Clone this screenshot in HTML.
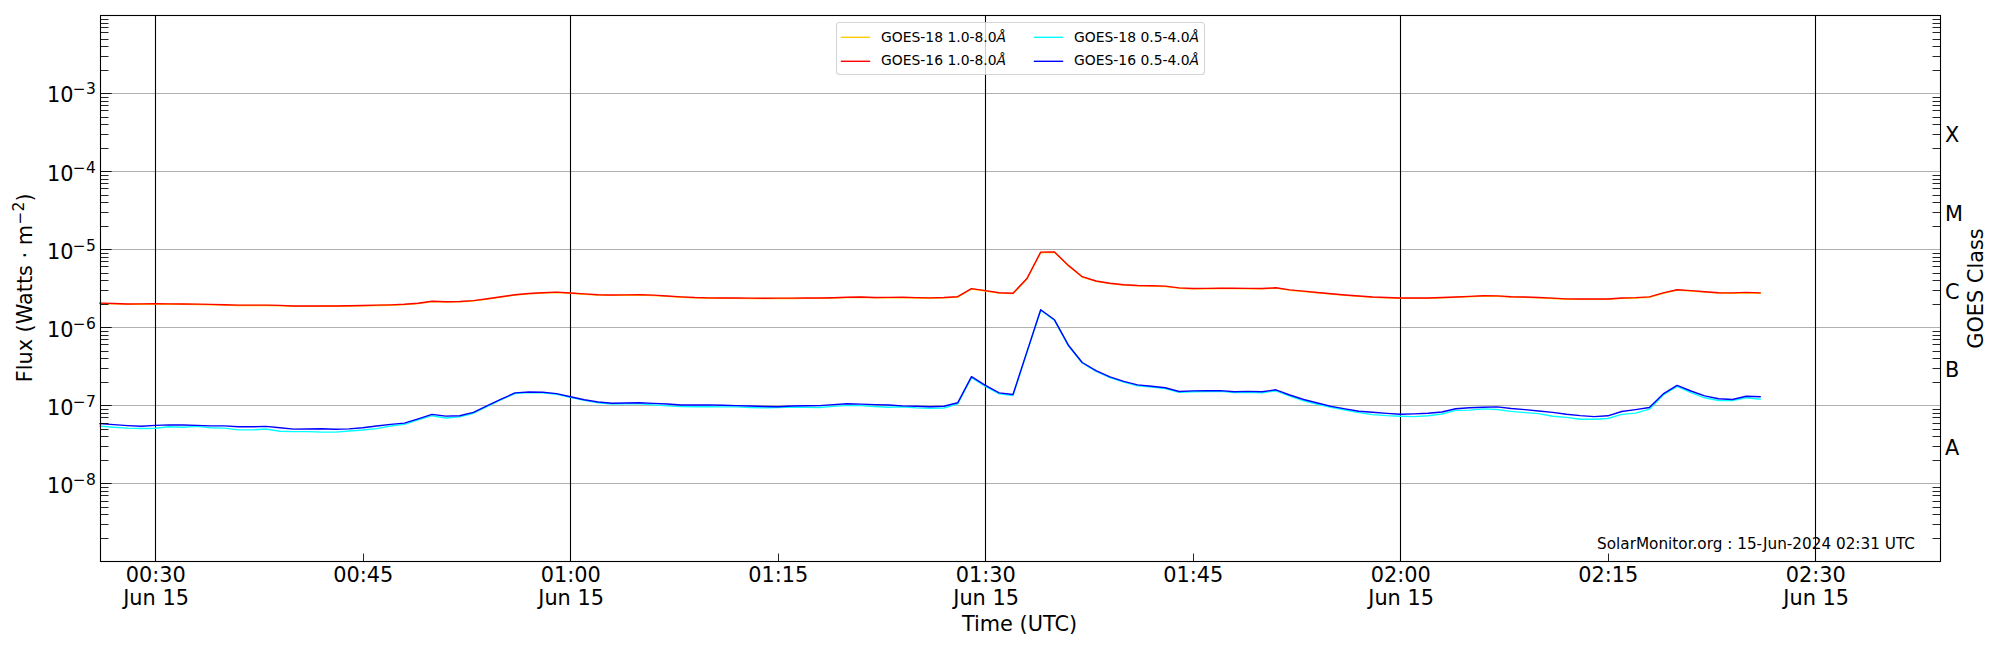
<!DOCTYPE html>
<html lang="en"><head><meta charset="utf-8"><title>GOES X-ray Flux</title>
<style>html,body{margin:0;padding:0;background:#fff}body{width:2000px;height:650px;overflow:hidden}svg{display:block}</style>
</head><body>
<svg width="2000" height="650" viewBox="0 0 2000 650" font-family="'DejaVu Sans', 'Liberation Sans', sans-serif">
<rect width="2000" height="650" fill="#fff"/>
<path d="M100.5 483.5H1940.5 M100.5 405.5H1940.5 M100.5 327.5H1940.5 M100.5 249.5H1940.5 M100.5 171.5H1940.5 M100.5 93.5H1940.5" stroke="#b0b0b0" stroke-width="1.1" fill="none"/>
<path d="M155.5 15.5V561.5 M570.5 15.5V561.5 M985.5 15.5V561.5 M1400.5 15.5V561.5 M1815.5 15.5V561.5" stroke="#000" stroke-width="1.1" fill="none"/>
<g fill="none" stroke-width="1.4" stroke-linejoin="round" stroke-linecap="square">
<path d="M100.0 303.45 L113.8 303.90 L127.7 304.35 L141.5 304.22 L155.3 304.10 L169.2 304.21 L183.0 304.32 L196.8 304.50 L210.7 304.72 L224.5 305.09 L238.3 305.45 L252.2 305.45 L266.0 305.45 L279.8 305.68 L293.7 306.34 L307.5 306.34 L321.3 306.32 L335.2 306.31 L349.0 306.11 L362.8 305.82 L376.7 305.52 L390.5 305.22 L404.3 304.67 L418.2 303.57 L432.0 301.65 L445.8 302.03 L459.7 301.84 L473.5 300.93 L487.4 299.16 L501.2 297.15 L515.0 295.07 L528.9 293.86 L542.7 293.03 L556.5 292.49 L570.4 293.32 L584.2 294.19 L598.0 295.05 L611.9 295.42 L625.7 295.23 L639.5 295.05 L653.4 295.51 L667.2 296.38 L681.0 297.25 L694.9 297.89 L708.7 298.20 L722.5 298.29 L736.4 298.38 L750.2 298.46 L764.0 298.55 L777.9 298.50 L791.7 298.46 L805.5 298.41 L819.4 298.37 L833.2 298.06 L847.0 297.63 L860.9 297.30 L874.7 297.83 L888.5 297.75 L902.4 297.65 L916.2 297.97 L930.0 298.21 L943.9 297.85 L957.7 297.05 L971.5 288.95 L985.4 290.95 L999.2 293.15 L1013.0 293.65 L1026.9 278.95 L1040.7 252.45 L1054.5 252.35 L1068.4 265.75 L1082.2 277.05 L1096.0 281.35 L1109.9 283.60 L1123.7 285.04 L1137.5 285.82 L1151.4 286.11 L1165.2 286.49 L1179.1 288.18 L1192.9 288.85 L1206.7 288.70 L1220.6 288.55 L1234.4 288.65 L1248.2 288.75 L1262.1 288.84 L1275.9 288.15 L1289.7 290.18 L1303.6 291.52 L1317.4 292.84 L1331.2 294.13 L1345.1 295.34 L1358.9 296.40 L1372.7 297.35 L1386.6 297.85 L1400.4 298.35 L1414.2 298.35 L1428.1 298.35 L1441.9 297.83 L1455.7 297.33 L1469.6 296.77 L1483.4 296.15 L1497.2 296.22 L1511.1 297.04 L1524.9 297.42 L1538.7 297.83 L1552.6 298.51 L1566.4 299.20 L1580.2 299.38 L1594.1 299.42 L1607.9 299.35 L1621.7 298.33 L1635.6 297.95 L1649.4 297.25 L1663.2 293.25 L1677.1 290.15 L1690.9 290.94 L1704.7 292.05 L1718.6 293.15 L1732.4 293.25 L1746.2 292.75 L1760.1 293.25" stroke="#ffcc00" stroke-width="1.4"/>
<path d="M100.0 303.10 L113.8 303.55 L127.7 304.00 L141.5 303.87 L155.3 303.75 L169.2 303.86 L183.0 303.97 L196.8 304.15 L210.7 304.37 L224.5 304.74 L238.3 305.10 L252.2 305.10 L266.0 305.10 L279.8 305.33 L293.7 305.99 L307.5 305.99 L321.3 305.97 L335.2 305.96 L349.0 305.76 L362.8 305.47 L376.7 305.17 L390.5 304.87 L404.3 304.32 L418.2 303.22 L432.0 301.30 L445.8 301.68 L459.7 301.49 L473.5 300.58 L487.4 298.81 L501.2 296.80 L515.0 294.72 L528.9 293.51 L542.7 292.68 L556.5 292.14 L570.4 292.97 L584.2 293.84 L598.0 294.70 L611.9 295.07 L625.7 294.88 L639.5 294.70 L653.4 295.16 L667.2 296.03 L681.0 296.90 L694.9 297.54 L708.7 297.85 L722.5 297.94 L736.4 298.03 L750.2 298.11 L764.0 298.20 L777.9 298.15 L791.7 298.11 L805.5 298.06 L819.4 298.02 L833.2 297.71 L847.0 297.28 L860.9 296.95 L874.7 297.48 L888.5 297.40 L902.4 297.30 L916.2 297.62 L930.0 297.86 L943.9 297.50 L957.7 296.70 L971.5 288.60 L985.4 290.60 L999.2 292.80 L1013.0 293.30 L1026.9 278.60 L1040.7 252.10 L1054.5 252.00 L1068.4 265.40 L1082.2 276.70 L1096.0 281.00 L1109.9 283.25 L1123.7 284.69 L1137.5 285.47 L1151.4 285.76 L1165.2 286.14 L1179.1 287.83 L1192.9 288.50 L1206.7 288.35 L1220.6 288.20 L1234.4 288.30 L1248.2 288.40 L1262.1 288.49 L1275.9 287.80 L1289.7 289.83 L1303.6 291.17 L1317.4 292.49 L1331.2 293.78 L1345.1 294.99 L1358.9 296.05 L1372.7 297.00 L1386.6 297.50 L1400.4 298.00 L1414.2 298.00 L1428.1 298.00 L1441.9 297.48 L1455.7 296.98 L1469.6 296.42 L1483.4 295.80 L1497.2 295.87 L1511.1 296.69 L1524.9 297.07 L1538.7 297.48 L1552.6 298.16 L1566.4 298.85 L1580.2 299.03 L1594.1 299.07 L1607.9 299.00 L1621.7 297.98 L1635.6 297.60 L1649.4 296.90 L1663.2 292.90 L1677.1 289.80 L1690.9 290.59 L1704.7 291.70 L1718.6 292.80 L1732.4 292.90 L1746.2 292.40 L1760.1 292.90" stroke="#ff0000"/>
<path d="M100.0 426.10 L113.8 427.30 L127.7 428.10 L141.5 428.50 L155.3 428.20 L169.2 426.80 L183.0 427.20 L196.8 426.40 L210.7 427.80 L224.5 428.10 L238.3 429.90 L252.2 429.90 L266.0 429.00 L279.8 431.20 L293.7 431.60 L307.5 431.60 L321.3 432.10 L335.2 432.10 L349.0 431.00 L362.8 430.00 L376.7 428.60 L390.5 426.00 L404.3 424.40 L418.2 419.90 L432.0 415.70 L445.8 418.00 L459.7 416.90 L473.5 413.20 L487.4 406.30 L501.2 399.70 L515.0 393.50 L528.9 392.60 L542.7 392.80 L556.5 394.20 L570.4 397.20 L584.2 400.40 L598.0 402.70 L611.9 404.00 L625.7 403.90 L639.5 403.84 L653.4 404.85 L667.2 405.83 L681.0 406.60 L694.9 406.68 L708.7 406.75 L722.5 406.83 L736.4 406.90 L750.2 407.43 L764.0 407.86 L777.9 407.49 L791.7 407.12 L805.5 407.30 L819.4 407.43 L833.2 406.41 L847.0 405.40 L860.9 405.60 L874.7 406.55 L888.5 407.30 L902.4 406.80 L916.2 407.85 L930.0 408.20 L943.9 408.00 L957.7 403.95 L971.5 377.60 L985.4 386.40 L999.2 393.90 L1013.0 395.50 L1026.9 352.50 L1040.7 310.30 L1054.5 320.40 L1068.4 345.80 L1082.2 363.00 L1096.0 371.30 L1109.9 377.50 L1123.7 382.10 L1137.5 385.70 L1151.4 387.00 L1165.2 388.60 L1179.1 392.30 L1192.9 391.80 L1206.7 391.60 L1220.6 391.40 L1234.4 392.60 L1248.2 392.20 L1262.1 392.90 L1275.9 390.80 L1289.7 396.20 L1303.6 400.80 L1317.4 404.20 L1331.2 407.20 L1345.1 410.00 L1358.9 412.60 L1372.7 414.65 L1386.6 415.60 L1400.4 416.20 L1414.2 416.60 L1428.1 415.70 L1441.9 414.00 L1455.7 410.40 L1469.6 410.10 L1483.4 408.90 L1497.2 409.45 L1511.1 411.40 L1524.9 412.60 L1538.7 413.60 L1552.6 416.30 L1566.4 417.40 L1580.2 419.20 L1594.1 419.30 L1607.9 418.50 L1621.7 414.40 L1635.6 413.10 L1649.4 409.20 L1663.2 394.90 L1677.1 386.45 L1690.9 392.60 L1704.7 397.80 L1718.6 400.50 L1732.4 400.60 L1746.2 397.80 L1760.1 399.20" stroke="#00ffff"/>
<path d="M100.0 423.70 L113.8 424.60 L127.7 425.60 L141.5 426.30 L155.3 425.40 L169.2 424.90 L183.0 425.00 L196.8 425.40 L210.7 425.90 L224.5 425.90 L238.3 426.80 L252.2 426.80 L266.0 426.40 L279.8 427.70 L293.7 429.10 L307.5 429.00 L321.3 428.80 L335.2 429.30 L349.0 428.90 L362.8 427.70 L376.7 426.00 L390.5 424.40 L404.3 423.10 L418.2 418.80 L432.0 414.40 L445.8 416.10 L459.7 415.70 L473.5 412.40 L487.4 405.70 L501.2 399.10 L515.0 392.90 L528.9 392.00 L542.7 392.20 L556.5 393.60 L570.4 396.70 L584.2 399.70 L598.0 402.00 L611.9 403.30 L625.7 403.05 L639.5 402.82 L653.4 403.41 L667.2 404.05 L681.0 405.00 L694.9 404.95 L708.7 404.92 L722.5 405.26 L736.4 405.60 L750.2 406.07 L764.0 406.52 L777.9 406.70 L791.7 405.94 L805.5 405.80 L819.4 405.63 L833.2 404.66 L847.0 403.70 L860.9 404.10 L874.7 404.60 L888.5 405.00 L902.4 405.90 L916.2 406.30 L930.0 406.80 L943.9 406.20 L957.7 402.80 L971.5 376.65 L985.4 385.40 L999.2 392.90 L1013.0 394.50 L1026.9 351.90 L1040.7 309.75 L1054.5 319.80 L1068.4 345.20 L1082.2 362.50 L1096.0 370.60 L1109.9 376.85 L1123.7 381.40 L1137.5 384.90 L1151.4 386.20 L1165.2 387.80 L1179.1 391.50 L1192.9 390.90 L1206.7 390.75 L1220.6 390.60 L1234.4 391.80 L1248.2 391.40 L1262.1 391.80 L1275.9 389.80 L1289.7 395.00 L1303.6 399.50 L1317.4 403.00 L1331.2 406.35 L1345.1 408.90 L1358.9 411.20 L1372.7 412.30 L1386.6 413.35 L1400.4 414.30 L1414.2 413.90 L1428.1 413.20 L1441.9 412.05 L1455.7 408.70 L1469.6 407.80 L1483.4 407.20 L1497.2 406.85 L1511.1 408.50 L1524.9 409.60 L1538.7 411.00 L1552.6 412.40 L1566.4 414.30 L1580.2 415.60 L1594.1 416.60 L1607.9 415.80 L1621.7 411.50 L1635.6 409.60 L1649.4 407.50 L1663.2 393.90 L1677.1 385.40 L1690.9 391.00 L1704.7 395.90 L1718.6 398.80 L1732.4 399.45 L1746.2 396.20 L1760.1 396.70" stroke="#0000ff"/>
</g>
<path d="M100.5 483.5h11.2 M100.5 405.5h11.2 M100.5 327.5h11.2 M100.5 249.5h11.2 M100.5 171.5h11.2 M100.5 93.5h11.2" stroke="#000" stroke-width="0.9" fill="none"/>
<path d="M100.5 538.5h8 M1940.5 538.5h-8 M100.5 524.5h8 M1940.5 524.5h-8 M100.5 514.5h8 M1940.5 514.5h-8 M100.5 507.5h8 M1940.5 507.5h-8 M100.5 501.5h8 M1940.5 501.5h-8 M100.5 495.5h8 M1940.5 495.5h-8 M100.5 491.5h8 M1940.5 491.5h-8 M100.5 487.5h8 M1940.5 487.5h-8 M100.5 460.5h8 M1940.5 460.5h-8 M100.5 446.5h8 M1940.5 446.5h-8 M100.5 436.5h8 M1940.5 436.5h-8 M100.5 429.5h8 M1940.5 429.5h-8 M100.5 423.5h8 M1940.5 423.5h-8 M100.5 417.5h8 M1940.5 417.5h-8 M100.5 413.5h8 M1940.5 413.5h-8 M100.5 409.5h8 M1940.5 409.5h-8 M100.5 382.5h8 M1940.5 382.5h-8 M100.5 368.5h8 M1940.5 368.5h-8 M100.5 358.5h8 M1940.5 358.5h-8 M100.5 351.5h8 M1940.5 351.5h-8 M100.5 344.5h8 M1940.5 344.5h-8 M100.5 339.5h8 M1940.5 339.5h-8 M100.5 335.5h8 M1940.5 335.5h-8 M100.5 331.5h8 M1940.5 331.5h-8 M100.5 304.5h8 M1940.5 304.5h-8 M100.5 290.5h8 M1940.5 290.5h-8 M100.5 280.5h8 M1940.5 280.5h-8 M100.5 273.5h8 M1940.5 273.5h-8 M100.5 266.5h8 M1940.5 266.5h-8 M100.5 261.5h8 M1940.5 261.5h-8 M100.5 257.5h8 M1940.5 257.5h-8 M100.5 253.5h8 M1940.5 253.5h-8 M100.5 226.5h8 M1940.5 226.5h-8 M100.5 212.5h8 M1940.5 212.5h-8 M100.5 202.5h8 M1940.5 202.5h-8 M100.5 195.5h8 M1940.5 195.5h-8 M100.5 188.5h8 M1940.5 188.5h-8 M100.5 183.5h8 M1940.5 183.5h-8 M100.5 179.5h8 M1940.5 179.5h-8 M100.5 175.5h8 M1940.5 175.5h-8 M100.5 148.5h8 M1940.5 148.5h-8 M100.5 134.5h8 M1940.5 134.5h-8 M100.5 124.5h8 M1940.5 124.5h-8 M100.5 117.5h8 M1940.5 117.5h-8 M100.5 110.5h8 M1940.5 110.5h-8 M100.5 105.5h8 M1940.5 105.5h-8 M100.5 101.5h8 M1940.5 101.5h-8 M100.5 97.5h8 M1940.5 97.5h-8 M100.5 70.5h8 M1940.5 70.5h-8 M100.5 56.5h8 M1940.5 56.5h-8 M100.5 46.5h8 M1940.5 46.5h-8 M100.5 39.5h8 M1940.5 39.5h-8 M100.5 32.5h8 M1940.5 32.5h-8 M100.5 27.5h8 M1940.5 27.5h-8 M100.5 23.5h8 M1940.5 23.5h-8 M100.5 19.5h8 M1940.5 19.5h-8" stroke="#000" stroke-width="0.85" fill="none"/>
<path d="M363.5 561.5v-8 M778.5 561.5v-8 M1193.5 561.5v-8 M1608.5 561.5v-8" stroke="#000" stroke-width="0.85" fill="none"/>
<rect x="100.5" y="15.5" width="1840.0" height="546.0" fill="none" stroke="#000" stroke-width="1.1"/>
<text x="47.0" y="493.13" font-size="20.83">10</text>
<text x="72.8" y="485.23" font-size="15.2">−</text>
<text transform="translate(86.1 484.73) scale(1 1.07)" font-size="15.5">8</text>
<text x="47.0" y="415.10" font-size="20.83">10</text>
<text x="72.8" y="407.20" font-size="15.2">−</text>
<text transform="translate(86.1 406.70) scale(1 1.07)" font-size="15.5">7</text>
<text x="47.0" y="337.07" font-size="20.83">10</text>
<text x="72.8" y="329.17" font-size="15.2">−</text>
<text transform="translate(86.1 328.67) scale(1 1.07)" font-size="15.5">6</text>
<text x="47.0" y="259.04" font-size="20.83">10</text>
<text x="72.8" y="251.14" font-size="15.2">−</text>
<text transform="translate(86.1 250.64) scale(1 1.07)" font-size="15.5">5</text>
<text x="47.0" y="181.01" font-size="20.83">10</text>
<text x="72.8" y="173.11" font-size="15.2">−</text>
<text transform="translate(86.1 172.61) scale(1 1.07)" font-size="15.5">4</text>
<text x="47.0" y="101.98" font-size="20.83">10</text>
<text x="72.8" y="94.08" font-size="15.2">−</text>
<text transform="translate(86.1 93.58) scale(1 1.07)" font-size="15.5">3</text>
<text x="155.76" y="582.3" text-anchor="middle" font-size="20.83">00:30</text>
<text x="156.06" y="604.7" text-anchor="middle" font-size="20.83">Jun 15</text>
<text x="363.27" y="582.3" text-anchor="middle" font-size="20.83">00:45</text>
<text x="570.78" y="582.3" text-anchor="middle" font-size="20.83">01:00</text>
<text x="571.08" y="604.7" text-anchor="middle" font-size="20.83">Jun 15</text>
<text x="778.29" y="582.3" text-anchor="middle" font-size="20.83">01:15</text>
<text x="985.80" y="582.3" text-anchor="middle" font-size="20.83">01:30</text>
<text x="986.10" y="604.7" text-anchor="middle" font-size="20.83">Jun 15</text>
<text x="1193.31" y="582.3" text-anchor="middle" font-size="20.83">01:45</text>
<text x="1400.82" y="582.3" text-anchor="middle" font-size="20.83">02:00</text>
<text x="1401.12" y="604.7" text-anchor="middle" font-size="20.83">Jun 15</text>
<text x="1608.33" y="582.3" text-anchor="middle" font-size="20.83">02:15</text>
<text x="1815.84" y="582.3" text-anchor="middle" font-size="20.83">02:30</text>
<text x="1816.14" y="604.7" text-anchor="middle" font-size="20.83">Jun 15</text>
<text x="1019.5" y="630.5" text-anchor="middle" font-size="20.83">Time (UTC)</text>
<g transform="translate(31.7 382.3) rotate(-90)"><text x="0" y="0" font-size="20.83">Flux (Watts · m</text><text x="157.9" y="-6.6" font-size="15.2">−</text><text transform="translate(170.7 -7.5) scale(1 1.07)" font-size="15.5">2</text><text x="180.8" y="0" font-size="20.83">)</text></g>
<text x="1945" y="454.60" font-size="20.83">A</text>
<text x="1945" y="376.57" font-size="20.83">B</text>
<text x="1945" y="298.54" font-size="20.83">C</text>
<text x="1945" y="220.51" font-size="20.83">M</text>
<text x="1945" y="142.48" font-size="20.83">X</text>
<text transform="translate(1982.5 288.5) rotate(-90)" text-anchor="middle" font-size="20.83">GOES Class</text>
<text x="1915" y="548.5" text-anchor="end" font-size="15.26">SolarMonitor.org : 15-Jun-2024 02:31 UTC</text>
<rect x="836.5" y="22.5" width="368" height="52" rx="3" ry="3" fill="#fff" fill-opacity="0.8" stroke="#ccc" stroke-opacity="0.8" stroke-width="1.1"/>
<path d="M840.8 37.3h29.4" stroke="#ffcc00" stroke-width="1.4" fill="none"/>
<text x="881.0" y="42.4" font-size="13.9">GOES-18 1.0-8.0<tspan font-style="italic">Å</tspan></text>
<path d="M840.8 61.3h29.4" stroke="#ff0000" stroke-width="1.4" fill="none"/>
<text x="881.0" y="65.4" font-size="13.9">GOES-16 1.0-8.0<tspan font-style="italic">Å</tspan></text>
<path d="M1033.8 37.3h29.4" stroke="#00ffff" stroke-width="1.4" fill="none"/>
<text x="1074.0" y="42.4" font-size="13.9">GOES-18 0.5-4.0<tspan font-style="italic">Å</tspan></text>
<path d="M1033.8 61.3h29.4" stroke="#0000ff" stroke-width="1.4" fill="none"/>
<text x="1074.0" y="65.4" font-size="13.9">GOES-16 0.5-4.0<tspan font-style="italic">Å</tspan></text>
</svg>
</body></html>
